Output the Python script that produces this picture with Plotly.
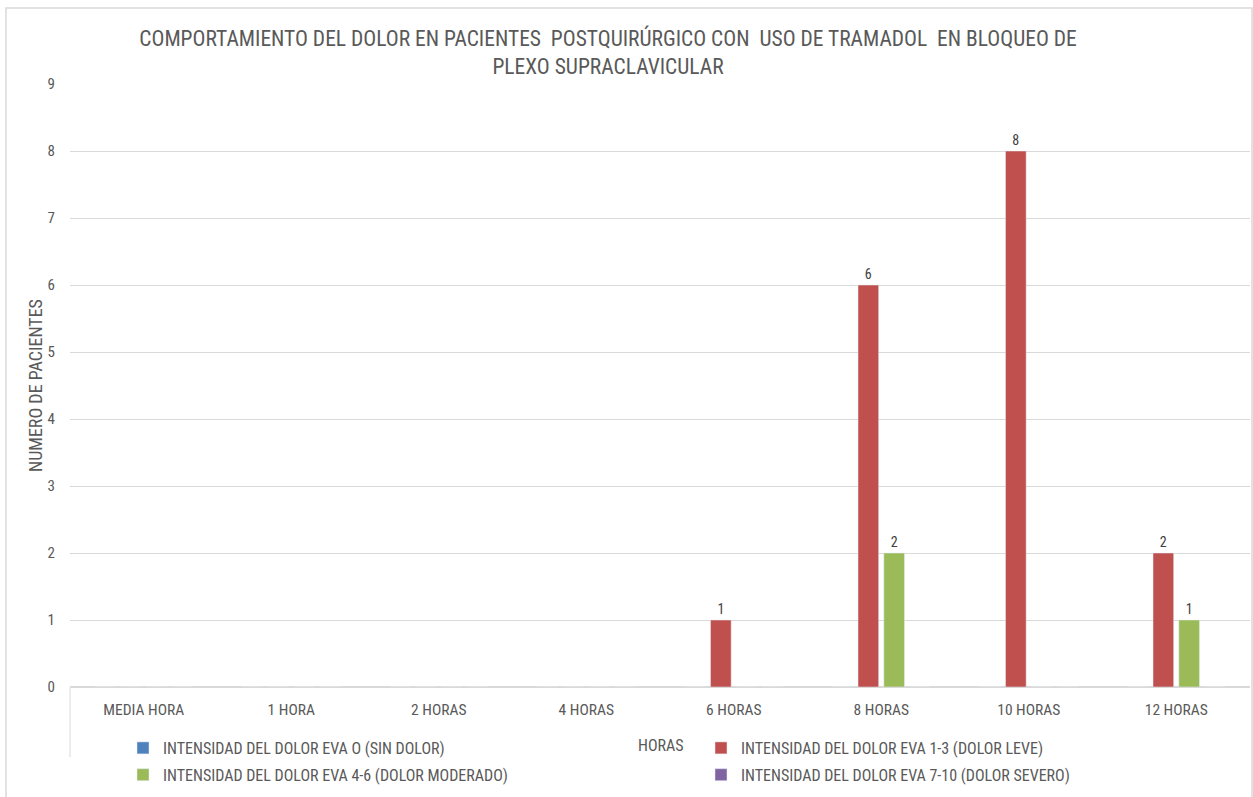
import plotly.graph_objects as go

categories = ["MEDIA HORA", "1 HORA", "2 HORAS", "4 HORAS", "6 HORAS", "8 HORAS", "10 HORAS", "12 HORAS"]
series_names = [
    "INTENSIDAD DEL DOLOR EVA O (SIN DOLOR)",
    "INTENSIDAD DEL DOLOR EVA 1-3 (DOLOR LEVE)",
    "INTENSIDAD DEL DOLOR EVA 4-6 (DOLOR MODERADO)",
    "INTENSIDAD DEL DOLOR EVA 7-10 (DOLOR SEVERO)",
]
eva_0 = [0, 0, 0, 0, 0, 0, 0, 0]
eva_1_3 = [0, 0, 0, 0, 1, 6, 8, 2]
eva_4_6 = [0, 0, 0, 0, 0, 2, 0, 1]
eva_7_10 = [0, 0, 0, 0, 0, 0, 0, 0]
colors = ["#4F81BD", "#C0504D", "#9BBB59", "#8064A2"]
legend_ids = ["legend", "legend2", "legend", "legend2"]

FONT = "Liberation Sans Narrow, Arial Narrow, Roboto Condensed, Open Sans, sans-serif"
GRAY = "#595959"

fig = go.Figure()
for i, (name, vals, col, lg) in enumerate(zip(series_names, [eva_0, eva_1_3, eva_4_6, eva_7_10], colors, legend_ids)):
    fig.add_trace(go.Bar(
        x=categories, y=vals, name=name, marker_color=col,
        legend=lg, legendgroup="g%d" % i,
        text=[str(v) if v else "" for v in vals],
        textposition="outside", cliponaxis=False,
        textfont=dict(size=14, color="#404040", family=FONT),
    ))

W, H = 1253, 797
ml, mr, mt, mb = 70, 3, 84, 110
pw = W - ml - mr
ph = H - mt - mb

def px(x):
    return (x - ml) / pw

def py(y):
    return (H - mb - y) / ph

leg_common = dict(
    orientation="v", yanchor="top", bgcolor="rgba(0,0,0,0)",
    font=dict(size=16, color=GRAY, family=FONT),
    itemwidth=30, tracegroupgap=3,
)

fig.update_layout(
    width=W, height=H,
    margin=dict(l=ml, r=mr, t=mt, b=mb, autoexpand=False),
    paper_bgcolor="white", plot_bgcolor="white",
    font=dict(family=FONT, color=GRAY, size=15),
    barmode="group", bargap=0.3, bargroupgap=0.2,
    title=dict(
        text="COMPORTAMIENTO DEL DOLOR EN PACIENTES  POSTQUIRÚRGICO CON  USO DE TRAMADOL  EN BLOQUEO DE<br>PLEXO SUPRACLAVICULAR",
        x=608 / W, xanchor="center", y=1 - 46 / H, yanchor="middle",
        font=dict(size=21.5, color=GRAY, family=FONT),
    ),
    xaxis=dict(
        showgrid=False, showline=True, linecolor="#d9d9d9", linewidth=1,
        ticks="", tickfont=dict(size=15.5, color=GRAY), ticklabelstandoff=8,
    ),
    yaxis=dict(
        range=[0, 9], dtick=1, showgrid=True, gridcolor="#d9d9d9", gridwidth=1,
        zeroline=True, zerolinecolor="#d9d9d9", showline=False,
        tickfont=dict(size=15, color=GRAY), ticklabelstandoff=14,
        title=dict(text="NUMERO DE PACIENTES", font=dict(size=18, color=GRAY), standoff=0),
    ),
    legend=dict(x=px(123), y=py(731), **leg_common),
    legend2=dict(x=px(701), y=py(731), **leg_common),
    showlegend=True,
    annotations=[dict(
        text="HORAS", xref="paper", yref="paper", x=px(661), y=py(745),
        xanchor="center", yanchor="middle", showarrow=False,
        font=dict(size=16, color=GRAY, family=FONT),
    )],
    shapes=[
        dict(type="rect", xref="paper", yref="paper", x0=px(6), x1=px(1252), y0=py(810), y1=py(8),
             line=dict(color="#d9d9d9", width=1.5), layer="below"),
        dict(type="line", xref="paper", yref="paper", x0=px(70), x1=px(70), y0=py(687), y1=py(757),
             line=dict(color="#e6e6e6", width=1.5)),
    ],
)

fig.write_html("out.html", config={"displayModeBar": False},
               post_script="document.body.style.margin='0';")
